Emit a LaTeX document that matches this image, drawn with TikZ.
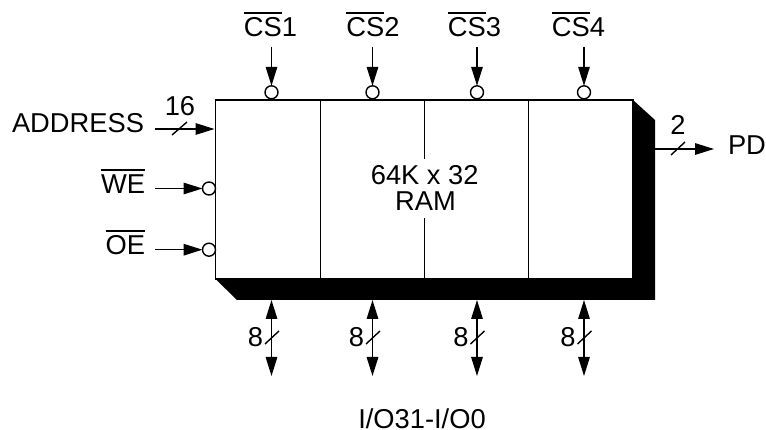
\documentclass[tikz,border=0pt]{standalone}
\usepackage{fontspec}
\setmainfont[Kerning=Off]{Liberation Sans}
\usetikzlibrary{arrows.meta}
\newsavebox{\ovlbox}
\newcommand{\ovl}[1]{\sbox{\ovlbox}{#1}\rlap{\raisebox{23pt}{\rule{\wd\ovlbox}{1.5pt}}}\usebox{\ovlbox}}
\tikzset{
  lbl/.style={inner sep=0pt,outer sep=0pt,font=\fontsize{27.3}{30}\selectfont,text=black},
  lblr/.style={lbl,anchor=base east},
  lblc/.style={lbl,anchor=base},
  lbll/.style={lbl,anchor=base west},
  sig/.style={line width=1.5pt,-{Triangle[length=19pt,width=11.5pt]}},
  bus/.style={line width=1.5pt,{Triangle[length=19pt,width=11.5pt]}-{Triangle[length=19pt,width=11.5pt]}},
  bubble/.style={circle,draw=black,fill=white,line width=1.4pt,minimum size=13pt,inner sep=0pt,outer sep=0pt},
  slash/.style={line width=1.4pt},
  divider/.style={line width=1pt},
}
\begin{document}
\begin{tikzpicture}[x=1pt,y=-1pt]
\useasboundingbox (0,0) rectangle (766,430);
% shadow and body
\fill[black] (215.5,279) -- (237,300) -- (655,300) -- (655,120) -- (633,100) -- cycle;
\node[draw=black,fill=white,line width=1.6pt,inner sep=0pt,outer sep=0pt,anchor=north west,minimum width=417.5pt,minimum height=179pt] (ram) at (215.5,100) {};
\draw[divider] (320,100) -- (320,279);
\draw[divider] (528,100) -- (528,279);
\draw[divider] (424,100) -- (424,159);
\draw[divider] (424,218) -- (424,279);
\node[lblc] (title) at (424.7,185) {64K x 32};
\node[lblc] (titleb) at (425.5,211) {RAM};
% chip selects
\foreach \n/\x/\lx in {1/271.5/270.5,2/372.5/373,3/477/474.5,4/584/578.5}{
  \node[lblc] (cs\n) at (\lx,36.7) {\ovl{CS}\n};
  \node[bubble] (b\n) at (\x,92.3) {};
  \coordinate (cst\n) at (\x,47);
  \draw[sig] (cst\n) -- (b\n.north);
  \coordinate (iot\n) at (\x,300);
  \coordinate (iob\n) at (\x,376);
  \draw[bus] (iot\n) -- (iob\n);
  \draw[slash] ([shift={(-6.5,2)}]\x,342) -- ([shift={(7.5,-11)}]\x,342);
  \node[lblc] (w\n) at ([xshift=-16pt]\x,347) {8};
}
% left signals
\node[lblr] (addr) at (144,133) {ADDRESS};
\node[lblc] (n16) at (180,116) {16};
\coordinate (addrs) at (155,129);
\coordinate (addre) at (214.5,129);
\draw[sig] (addrs) -- (addre);
\draw[slash] (172,135) -- (187,122);
\node[lblr] (we) at (145,194) {\ovl{WE}};
\coordinate (wes) at (155,188.5);
\node[bubble] (wec) at (209,188.5) {};
\draw[sig] (wes) -- (wec.west);
\node[lblr] (oe) at (145,255) {\ovl{OE}};
\coordinate (oes) at (155,249.7);
\node[bubble] (oec) at (209,249.7) {};
\draw[sig] (oes) -- (oec.west);
% output
\coordinate (pds) at (655,149);
\coordinate (pde) at (714,149);
\draw[sig] (pds) -- (pde);
\draw[slash] (671,155) -- (685,142);
\node[lblc] (n2) at (678,135) {2};
\node[lbll] (pd) at (728,155) {PD};
\node[lblc] (io) at (422,428) {I/O31-I/O0};
\end{tikzpicture}
\end{document}
